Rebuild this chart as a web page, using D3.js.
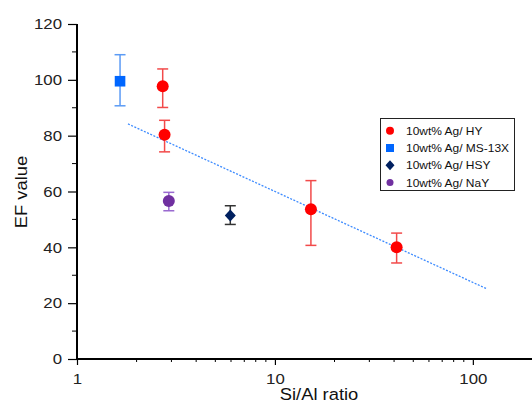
<!DOCTYPE html>
<html><head><meta charset="utf-8">
<script src="https://cdn.jsdelivr.net/npm/d3@7"></script>
<style>body{margin:0;background:#fff}svg{display:block;font-family:"Liberation Sans",Arial,sans-serif}</style>
</head><body><svg id="c" width="532" height="405"></svg>
<script>
const seriesNames = ["10wt% Ag/ HY","10wt% Ag/ MS-13X","10wt% Ag/ HSY","10wt% Ag/ NaY"];
const hyX = [2.71, 2.77, 15.2, 41.2];
const hyY = [97.7, 80.3, 53.6, 40.0];
const hyLo = [90.1, 74.2, 40.7, 34.4];
const hyHi = [103.9, 85.5, 63.9, 45.1];
const msX = [1.65]; const msY = [99.5]; const msLo = [90.7]; const msHi = [109];
const hsyX = [5.95]; const hsyY = [51.4]; const hsyLo = [48.2]; const hsyHi = [54.9];
const nayX = [2.91]; const nayY = [56.6]; const nayLo = [53.1]; const nayHi = [59.7];
const trendX = [1.81, 118];
const trendY = [84.2, 25.1];
const yTicks = [0,20,40,60,80,100,120];
const xTicks = [1,10,100];

const svg = d3.select("#c");
const x = d3.scaleLog().domain([1, 199]).range([77, 532]);
const y = d3.scaleLinear().domain([0, 120]).range([359, 24]);

// trend line
svg.append("line")
  .attr("x1", x(trendX[0])).attr("y1", y(trendY[0]))
  .attr("x2", x(trendX[1])).attr("y2", y(trendY[1]))
  .attr("stroke", "#3d8bff").attr("stroke-width", 1.3).attr("stroke-dasharray", "2,1.5");

function errBars(xs, lo, hi, color) {
  const g = svg.append("g").attr("stroke", color).attr("stroke-width", 1.5);
  xs.forEach((v, i) => {
    const cx = x(v);
    g.append("line").attr("x1", cx).attr("x2", cx).attr("y1", y(lo[i])).attr("y2", y(hi[i]));
    g.append("line").attr("x1", cx - 5.5).attr("x2", cx + 5.5).attr("y1", y(lo[i])).attr("y2", y(lo[i]));
    g.append("line").attr("x1", cx - 5.5).attr("x2", cx + 5.5).attr("y1", y(hi[i])).attr("y2", y(hi[i]));
  });
}
errBars(hyX, hyLo, hyHi, "#f24a4a");
errBars(msX, msLo, msHi, "#5b9bf5");
errBars(hsyX, hsyLo, hsyHi, "#333");
errBars(nayX, nayLo, nayHi, "#9a6ad0");

svg.selectAll(".hy").data(hyX).enter().append("circle")
  .attr("cx", d => x(d)).attr("cy", (d, i) => y(hyY[i])).attr("r", 6).attr("fill", "#ff0000");
svg.selectAll(".ms").data(msX).enter().append("rect")
  .attr("x", d => x(d) - 5.3).attr("y", (d, i) => y(msY[i]) - 5.3).attr("width", 10.6).attr("height", 10.6).attr("fill", "#0066ff");
svg.selectAll(".hsy").data(hsyX).enter().append("path")
  .attr("transform", (d, i) => `translate(${x(d)},${y(hsyY[i])})`)
  .attr("d", "M0,-6L5.5,0L0,6L-5.5,0Z").attr("fill", "#002060");
svg.selectAll(".nay").data(nayX).enter().append("circle")
  .attr("cx", d => x(d)).attr("cy", (d, i) => y(nayY[i])).attr("r", 6).attr("fill", "#7030a0");

// axes
const yAxis = svg.append("g").attr("transform", "translate(77,0)");
yAxis.call(d3.axisLeft(y).tickValues(yTicks).tickSize(9).tickPadding(6));
yAxis.append("g").selectAll("line").data(d3.range(10, 120, 20)).enter().append("line")
  .attr("x1", -5).attr("x2", 0).attr("y1", d => y(d)).attr("y2", d => y(d)).attr("stroke", "#000");
const xAxis = svg.append("g").attr("transform", "translate(0,359)");
xAxis.call(d3.axisBottom(x).tickValues(xTicks).tickFormat(d3.format("d")).tickSize(6).tickPadding(8));
const minors = [2,3,4,5,6,7,8,9,20,30,40,50,60,70,80,90];
xAxis.append("g").selectAll("line").data(minors).enter().append("line")
  .attr("x1", d => x(d)).attr("x2", d => x(d)).attr("y1", 0).attr("y2", 3).attr("stroke", "#000");
[yAxis, xAxis].forEach(a => {
  a.select(".domain").attr("stroke-width", 2).attr("stroke", "#000");
  a.selectAll(".tick line").attr("stroke-width", 1.2);
  a.selectAll("text").attr("font-size", 15).attr("fill", "#222").attr("font-family", "Liberation Sans, Arial, sans-serif");
});
yAxis.selectAll(".tick text").attr("x", null).attr("transform", "translate(-15,0) scale(1.12,1)");
xAxis.selectAll(".tick text").attr("transform", "scale(1.12,1)");
yAxis.select(".domain").attr("d", `M0,${y(120)}V${y(0)}`);
xAxis.select(".domain").attr("d", `M77,0H532`);

svg.append("text").attr("transform", "translate(319,400) scale(1.08,1)").attr("text-anchor", "middle").attr("font-size", 17).attr("fill", "#111").text("Si/Al ratio");
svg.append("text").attr("transform", "translate(27,192) rotate(-90) scale(1.08,1)").attr("text-anchor", "middle").attr("font-size", 17).attr("fill", "#111").text("EF value");

// legend
const lg = svg.append("g");
lg.append("rect").attr("x", 380.5).attr("y", 118.5).attr("width", 134).attr("height", 72).attr("fill", "#fff").attr("stroke", "#222").attr("stroke-width", 1);
const colors = ["#ff0000", "#0066ff", "#002060", "#7030a0"];
seriesNames.forEach((n, i) => {
  const cy = 130.7 + i * 17.3;
  if (i === 0 || i === 3) lg.append("circle").attr("cx", 390).attr("cy", cy).attr("r", i === 0 ? 4 : 3.5).attr("fill", colors[i]);
  else if (i === 1) lg.append("rect").attr("x", 386).attr("y", cy - 4).attr("width", 8).attr("height", 8).attr("fill", colors[i]);
  else lg.append("path").attr("transform", `translate(390,${cy})`).attr("d", "M0,-5L4.5,0L0,5L-4.5,0Z").attr("fill", colors[i]);
  lg.append("text").attr("transform", `translate(406,${cy + 4}) scale(1.07,1)`).attr("font-size", 11.2).attr("fill", "#111").text(n);
});
</script></body></html>
